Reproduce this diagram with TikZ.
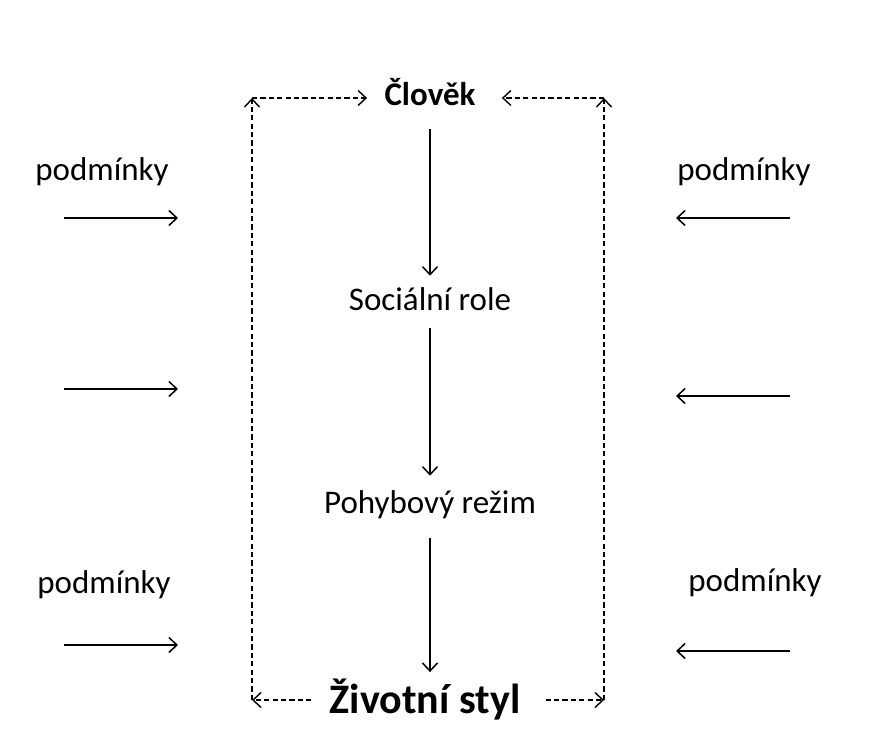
\documentclass[tikz,border=0pt]{standalone}
\usepackage{fontspec}
\setmainfont{Carlito}
\usetikzlibrary{arrows.meta}

\tikzset{
    label/.style={inner sep=0pt, anchor=base, font=\fontsize{16.5}{18}\selectfont},
    cond/.style={line width=0.75pt, -{Straight Barb[length=4pt, width=7.5pt]}},
    flow/.style={line width=0.75pt, -{Straight Barb[length=4pt, width=7.5pt]}},
    dline/.style={line width=0.7pt, dash pattern=on 2.6pt off 1.6pt, -{Straight Barb[length=4pt, width=7.5pt]}}
}

\begin{document}
\begin{tikzpicture}[x=0.5pt, y=-0.5pt]
    \useasboundingbox (0,0) rectangle (877,728);

    % main chain
    \node[label, font=\fontsize{16.5}{18}\selectfont\bfseries] (clovek) at (430,105) {Člověk};
    \node[label] (role) at (430,310) {Sociální role};
    \node[label] (rezim) at (430,513) {Pohybový režim};
    \node[label, font=\fontsize{21}{24}\selectfont\bfseries] (zivot) at (425,713) {Životní styl};

    \draw[flow, shorten <=11.5pt, shorten >=5.5pt] (clovek) -- (role);
    \draw[flow, shorten <=8.5pt, shorten >=7pt] (role) -- (rezim);
    \draw[flow, shorten <=9.5pt, shorten >=3pt] (rezim.south) -- (rezim.south |- zivot.north);

    % dashed feedback loop
    \coordinate (tl) at (252,98);
    \coordinate (tr) at (604,98);
    \coordinate (bl) at (252,700);
    \coordinate (br) at (604,700);
    \draw[dline] (zivot.west |- bl) ++(-18,0) -- (bl);
    \draw[dline] (bl) -- (tl);
    \draw[dline, shorten >=8.5pt] (tl) -- (clovek.west |- tl);
    \draw[dline] (zivot.east |- br) ++(25,0) -- (br);
    \draw[dline] (br) -- (tr);
    \draw[dline, shorten >=13pt] (tr) -- (clovek.east |- tr);

    % outside conditions
    \node[label, anchor=base west] (pl1) at (35,180) {podmínky};
    \node[label, anchor=base west] (pl2) at (37,593) {podmínky};
    \node[label, anchor=base west] (pr1) at (677,180) {podmínky};
    \node[label, anchor=base west] (pr2) at (688,591) {podmínky};

    \foreach \y [count=\i] in {218,389,645} {
        \coordinate (la\i) at (64,\y);
        \coordinate (lb\i) at (178,\y);
        \draw[cond] (la\i) -- (lb\i);
    }
    \foreach \y [count=\i] in {218,396,651} {
        \coordinate (ra\i) at (790,\y);
        \coordinate (rb\i) at (676,\y);
        \draw[cond] (ra\i) -- (rb\i);
    }
\end{tikzpicture}
\end{document}
